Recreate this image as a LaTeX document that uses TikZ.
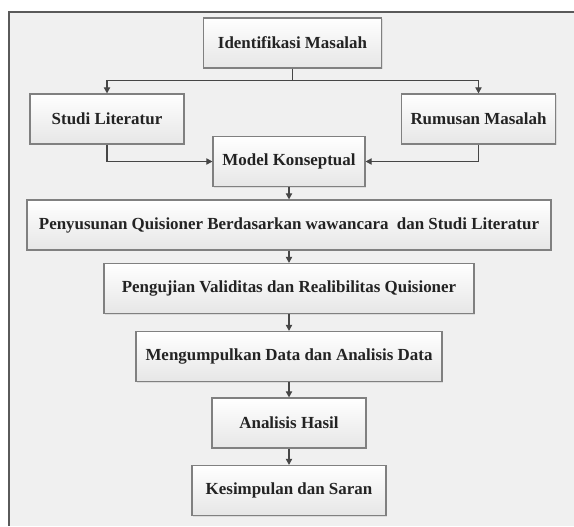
\documentclass[tikz,border=0pt]{standalone}
\usepackage{fontspec}
\setmainfont{Liberation Serif}
\usetikzlibrary{arrows.meta,shadows}
\definecolor{pagefill}{RGB}{240,240,240}
\definecolor{frameedge}{RGB}{90,90,90}
\definecolor{boxedge}{RGB}{128,128,128}
\definecolor{boxbottom}{RGB}{230,230,230}
\definecolor{linegray}{RGB}{70,70,70}
\definecolor{textdark}{RGB}{35,35,35}

\begin{document}
\begin{tikzpicture}[
  x=0.75pt,y=-0.75pt,
  font=\fontsize{12.7}{14}\selectfont\bfseries,
  arrow/.style={-{Triangle[length=4.6pt,width=4.8pt]},line width=0.8pt,draw=linegray},
  stepbox/.style={draw=boxedge,line width=0.9pt,top color=white,bottom color=boxbottom,
    minimum height=37.5pt,inner sep=0pt,text=textdark,
    drop shadow={opacity=0.18,shadow xshift=1pt,shadow yshift=-1pt}}
]
\useasboundingbox (0,0) rectangle (574,526);

% -------------------------------------------------------------------------
% page
% -------------------------------------------------------------------------
\fill[white] (0,0) rectangle (574,526);
\fill[pagefill] (9,12) rectangle (574,526);
\draw[frameedge,line width=0.9pt] (574,12) -- (9,12) -- (9,526);

% -------------------------------------------------------------------------
% top part
% -------------------------------------------------------------------------
\node[stepbox,minimum width=133pt] (ident) at (292.5,43) {Identifikasi Masalah};
\node[stepbox,minimum width=115.5pt] (studi) at (107,119) {Studi Literatur};
\node[stepbox,minimum width=115pt] (rumusan) at (478.5,119) {Rumusan Masalah};
\node[stepbox,minimum width=114pt] (model) at (289,161.5) {Model Konseptual};

\draw[arrow] (ident.south) -- ++(0,12) -| (studi.north);
\draw[arrow] (ident.south) -- ++(0,12) -| (rumusan.north);
\draw[arrow] (studi.south) |- (model.west);
\draw[arrow] (rumusan.south) |- (model.east);

% -------------------------------------------------------------------------
% main chain
% -------------------------------------------------------------------------
\node[stepbox,minimum width=393pt] (susun) at (289,225)
  {Penyusunan Quisioner Berdasarkan wawancara\ \ dan Studi Literatur};
\node[stepbox,minimum width=277.5pt] (uji) at (289,288.5)
  {Pengujian Validitas dan Realibilitas Quisioner};
\node[stepbox,minimum width=229.5pt] (kumpul) at (289,356.5)
  {Mengumpulkan Data dan Analisis Data};
\node[stepbox,minimum width=115.5pt] (hasil) at (289,423) {Analisis Hasil};
\node[stepbox,minimum width=145.5pt] (simpul) at (289,490.5) {Kesimpulan dan Saran};

\foreach \a/\b in {model/susun,susun/uji,uji/kumpul,kumpul/hasil,hasil/simpul}
  {\draw[arrow] (\a.south) -- (\b.north);}
\end{tikzpicture}
\end{document}
